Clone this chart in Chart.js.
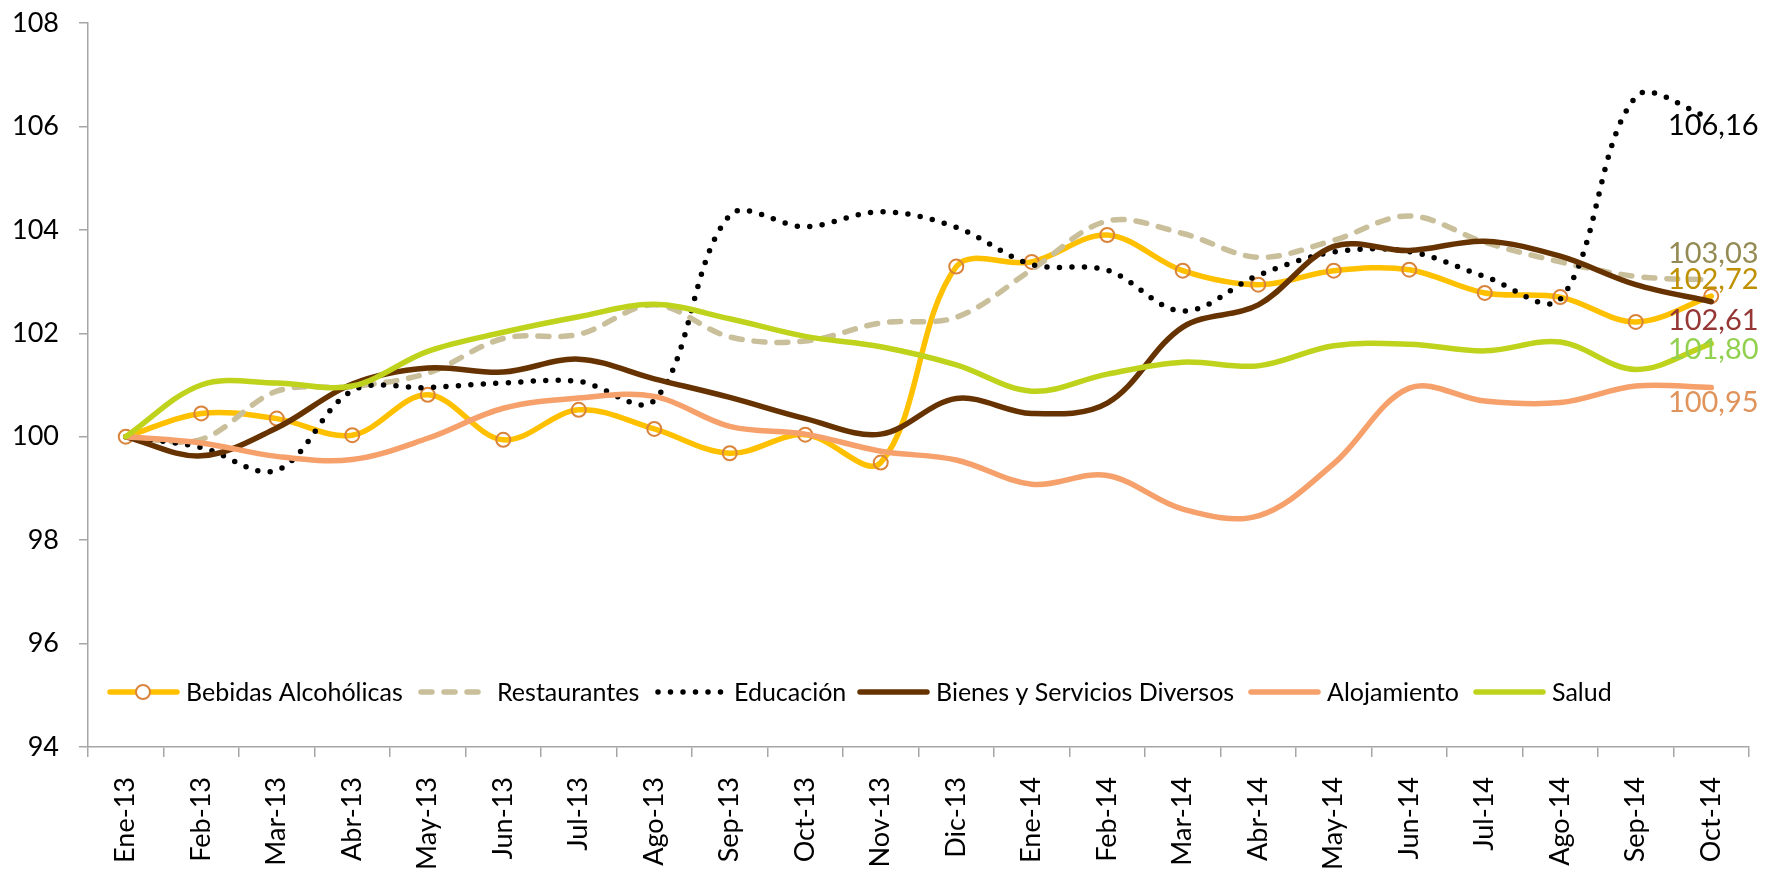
<!DOCTYPE html>
<html>
<head>
<meta charset="utf-8">
<script src="https://cdn.jsdelivr.net/npm/chart.js@4/dist/chart.umd.min.js"></script>
<style>
html,body{margin:0;padding:0;background:#fff;}
canvas{display:block;}
</style>
</head>
<body>
<canvas id="c" width="1783" height="877"></canvas>
<script>
const categories = ["Ene-13","Feb-13","Mar-13","Abr-13","May-13","Jun-13","Jul-13","Ago-13","Sep-13","Oct-13","Nov-13","Dic-13","Ene-14","Feb-14","Mar-14","Abr-14","May-14","Jun-14","Jul-14","Ago-14","Sep-14","Oct-14"];
const bebidas      = [100, 100.45, 100.35, 100.03, 100.81, 99.94, 100.52, 100.15, 99.68, 100.04, 99.50, 103.29, 103.38, 103.90, 103.21, 102.94, 103.21, 103.23, 102.78, 102.70, 102.22, 102.72];
const restaurantes = [100, 99.95, 100.88, 100.97, 101.23, 101.90, 101.98, 102.55, 101.93, 101.85, 102.20, 102.31, 103.23, 104.17, 103.93, 103.47, 103.80, 104.27, 103.76, 103.38, 103.10, 103.03];
const educacion    = [100, 99.79, 99.35, 100.89, 100.95, 101.04, 101.07, 100.70, 104.28, 104.06, 104.35, 104.05, 103.33, 103.22, 102.43, 103.12, 103.57, 103.58, 103.10, 102.66, 106.57, 106.16];
const bienes       = [100, 99.63, 100.17, 101.02, 101.33, 101.25, 101.50, 101.12, 100.76, 100.35, 100.05, 100.74, 100.45, 100.65, 102.12, 102.55, 103.68, 103.60, 103.78, 103.49, 102.94, 102.61];
const alojamiento  = [100, 99.88, 99.62, 99.56, 99.97, 100.55, 100.75, 100.78, 100.20, 100.05, 99.72, 99.55, 99.08, 99.25, 98.60, 98.47, 99.48, 100.94, 100.69, 100.66, 100.98, 100.95];
const salud        = [100, 101.00, 101.04, 100.98, 101.65, 102.02, 102.32, 102.56, 102.28, 101.94, 101.74, 101.39, 100.88, 101.21, 101.44, 101.37, 101.76, 101.79, 101.66, 101.83, 101.30, 101.80];
const seriesNames  = ["Bebidas Alcohólicas","Restaurantes","Educación","Bienes y Servicios Diversos","Alojamiento","Salud"];
const endLabels    = ["102,72","103,03","106,16","102,61","100,95","101,80"];
const yTicks       = [94, 96, 98, 100, 102, 104, 106, 108];

const colors = ["#FFC000","#C9BF9B","#000000","#663300","#F6A06B","#BFD31C"];
const labelColors = ["#BF9000","#948A54","#000000","#953735","#E0935B","#92D050"];
const labelOffsets = [-16, -26, 7, 19, 15, 6];
const LW = 5.5;

const seriesData = [bebidas, restaurantes, educacion, bienes, alojamiento, salud];
const dashes = [[], [11, 12], [0, 12.5], [], [], []];

const datasets = seriesData.map((d, i) => ({
  label: seriesNames[i],
  data: d,
  borderColor: colors[i],
  backgroundColor: colors[i],
  borderWidth: LW,
  borderDash: dashes[i],
  borderCapStyle: 'round',
  borderJoinStyle: 'round',
  tension: 0.35,
  fill: false,
  order: 6 - i,
  pointRadius: i === 0 ? 7 : 0,
  pointStyle: 'circle',
  pointBorderColor: '#D9833B',
  pointBackgroundColor: 'rgba(255,255,255,0)',
  pointBorderWidth: 2,
  clip: false
}));

const legendX = [108, 419, 656, 858, 1249, 1474];
const legendPlugin = {
  id: 'customLegend',
  afterDatasetsDraw(chart) {
    const ctx = chart.ctx;
    const y = 692;
    ctx.save();
    ctx.font = '25px Lato';
    ctx.textBaseline = 'middle';
    ctx.textAlign = 'left';
    for (let i = 0; i < seriesNames.length; i++) {
      const x0 = legendX[i];
      ctx.beginPath();
      ctx.strokeStyle = colors[i];
      ctx.lineWidth = LW;
      ctx.lineCap = 'round';
      ctx.setLineDash(dashes[i]);
      ctx.moveTo(x0 + 2, y);
      ctx.lineTo(x0 + 69, y);
      ctx.stroke();
      ctx.setLineDash([]);
      if (i === 0) {
        ctx.beginPath();
        ctx.arc(x0 + 35, y, 7, 0, Math.PI * 2);
        ctx.fillStyle = '#fff';
        ctx.fill();
        ctx.lineWidth = 2;
        ctx.strokeStyle = '#D9833B';
        ctx.stroke();
      }
      ctx.fillStyle = '#000';
      ctx.fillText(seriesNames[i], x0 + 78, y + 1);
    }
    ctx.font = '29px Lato';
    ctx.textAlign = 'center';
    const xs = chart.scales.x, ys = chart.scales.y;
    const last = categories.length - 1;
    for (let i = 0; i < seriesData.length; i++) {
      const px = xs.getPixelForValue(last);
      const py = ys.getPixelForValue(seriesData[i][last]);
      ctx.fillStyle = labelColors[i];
      ctx.fillText(endLabels[i], px + 2, py + labelOffsets[i]);
    }
    ctx.restore();
  }
};

new Chart(document.getElementById('c'), {
  type: 'line',
  data: { labels: categories, datasets },
  options: {
    responsive: false,
    animation: false,
    layout: { padding: { top: 23, right: 34, left: 0, bottom: 0 } },
    plugins: { legend: { display: false }, tooltip: { enabled: false } },
    scales: {
      x: {
        offset: true,
        grid: { offset: true, drawOnChartArea: false, tickLength: 10, color: '#A6A6A6', lineWidth: 1.5 },
        border: { color: '#A6A6A6', width: 1.5 },
        ticks: { minRotation: 90, maxRotation: 90, autoSkip: false, color: '#000', padding: 20,
                 font: { family: 'Lato', size: 27 } },
        afterFit(s) { s.height = 130; s.paddingLeft = 0; s.paddingRight = 0; }
      },
      y: {
        min: 94, max: 108,
        afterBuildTicks(s) { s.ticks = yTicks.map(v => ({ value: v })); },
        grid: { drawOnChartArea: false, tickLength: 9, color: '#A6A6A6', lineWidth: 1.5 },
        border: { color: '#A6A6A6', width: 1.5 },
        ticks: { color: '#000', padding: 20, font: { family: 'Lato', size: 27 } },
        afterFit(s) { s.width = 88; s.paddingTop = 0; s.paddingBottom = 0; }
      }
    }
  },
  plugins: [legendPlugin]
});
</script>
</body>
</html>
